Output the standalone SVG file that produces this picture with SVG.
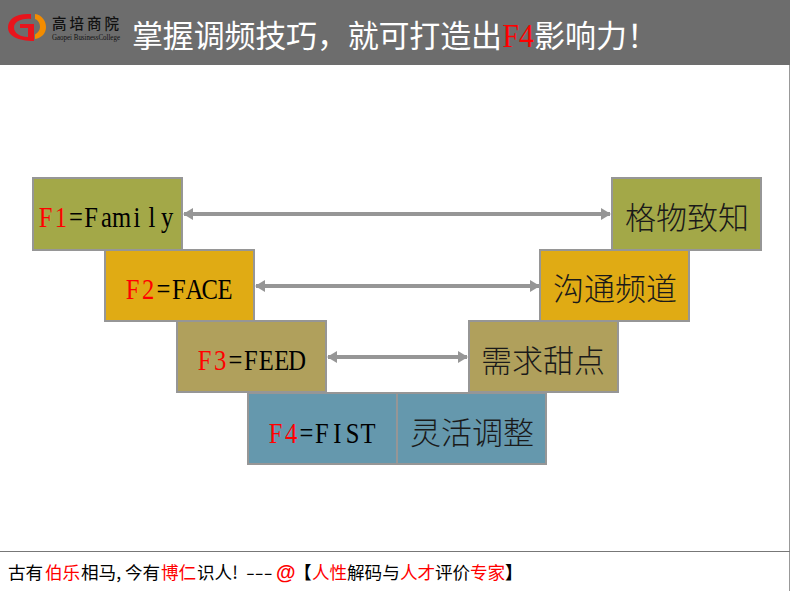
<svg xmlns="http://www.w3.org/2000/svg" width="790" height="591" viewBox="0 0 790 591">
<style>
.box{stroke:#969696;stroke-width:2}
.latin{font-family:"Liberation Serif",serif;font-size:30px;fill:#000;text-anchor:middle}
.cjk{font-family:"Noto Sans CJK SC",sans-serif;font-size:31px;fill:#1a1a1a;font-weight:300}
.title{font-family:"Noto Sans CJK SC",sans-serif;font-size:31px;fill:#fff}
.foot{font-family:"Noto Sans CJK SC",sans-serif;font-size:17.600px;fill:#000}
.r{fill:#f00}
.conn{stroke:#969696;stroke-width:4;fill:none;marker-start:url(#a);marker-end:url(#a)}
</style>
<defs>
<marker id="a" viewBox="0 0 10 12" refX="9" refY="6" markerWidth="10" markerHeight="12" markerUnits="userSpaceOnUse" orient="auto-start-reverse"><path d="M0 0L10 6L0 12Z" fill="#969696"/></marker>
</defs>
<rect width="790" height="591" fill="#fff"/>
<g id="header">
<rect width="790" height="65" fill="#6d6d6d"/>
<g id="logo">
<path d="M31 14C16 13 8 19 8 27.500C8 36 18 41 34 41L34 24L20 24L20 28L28 28L28 37C20 37 14 33 14 27.500C14 22 21 18 31 19Z" fill="#e8141c"/>
<path d="M35 14C42 15 46 21 46 27C46 33 42 38 35 39L35 34.500C38 33 40 30 40 27C40 23 38 20 35 19Z" fill="#f28c00"/>
<text x="52" y="29" style="font-family:'Noto Sans CJK SC',serif;font-size:14.500px;font-weight:500;letter-spacing:3px;fill:#111">高培商院</text>
<text x="52" y="40" style="font-family:'Liberation Serif',serif;font-size:7.500px;fill:#111" textLength="68" lengthAdjust="spacingAndGlyphs">Gaopei BusinessCollege</text>
</g>
<text class="title" x="132" y="47" textLength="370">掌握调频技巧，就可打造出</text>
<text class="r" transform="translate(502.500 46.500) scale(.9 1)" style="font-family:'Liberation Serif',serif;font-size:33px">F4</text>
<text class="title" x="534" y="47">影响力！</text>
</g>
<line x1="789.500" y1="65" x2="789.500" y2="591" stroke="#999" stroke-width="1"/>
<g id="connectors">
<line class="conn" x1="184" y1="214" x2="610" y2="214"/>
<line class="conn" x1="256" y1="286" x2="539" y2="286"/>
<line class="conn" x1="328" y1="357" x2="467" y2="357"/>
</g>
<g id="f1"><rect class="box" x="33" y="178" width="149" height="72" fill="#a3a848"/><text class="latin" transform="translate(38 227) scale(.82 1)"><tspan class="r" x="9.300 27.800">F1</tspan><tspan x="46.300 64.900 83.400 102 120.500 139 157.600">=Family</tspan></text></g>
<g id="f1r"><rect class="box" x="612" y="178" width="149" height="72" fill="#a3a848"/><text class="cjk" x="625" y="229">格物致知</text></g>
<g id="f2"><rect class="box" x="105" y="250" width="149" height="71" fill="#e0ab14"/><text class="latin" transform="translate(125 299) scale(.82 1)"><tspan class="r" x="9.400 28.200">F2</tspan><tspan x="46.900 65.700 84.500 103.300 122.100">=FACE</tspan></text></g>
<g id="f2r"><rect class="box" x="540" y="250" width="149" height="71" fill="#e0ab14"/><text class="cjk" x="553" y="300">沟通频道</text></g>
<g id="f3"><rect class="box" x="177" y="321" width="149" height="71" fill="#b0a05c"/><text class="latin" transform="translate(197 370) scale(.82 1)"><tspan class="r" x="9.400 28.200">F3</tspan><tspan x="46.900 65.700 84.500 103.300 122.100">=FEED</tspan></text></g>
<g id="f3r"><rect class="box" x="469" y="321" width="149" height="71" fill="#b0a05c"/><text class="cjk" x="481" y="372">需求甜点</text></g>
<g id="f4"><rect class="box" x="248" y="393" width="149" height="71" fill="#6598ad"/><text class="latin" transform="translate(268 443) scale(.82 1)"><tspan class="r" x="9.400 28.200">F4</tspan><tspan x="46.900 65.700 84.500 103.300 122.100">=FIST</tspan></text></g>
<g id="f4r"><rect class="box" x="397" y="393" width="149" height="71" fill="#6598ad"/><text class="cjk" x="410" y="444">灵活调整</text></g>
<g id="footer">
<line x1="0" y1="551.500" x2="790" y2="551.500" stroke="#777" stroke-width="1"/>
<text class="foot" y="579"><tspan x="8">古有</tspan><tspan class="r" x="45">伯乐</tspan><tspan x="81">相马,</tspan><tspan x="125">今有</tspan><tspan class="r" x="161">博仁</tspan><tspan x="197">识人!</tspan><tspan class="r" x="276" style="font-family:'Liberation Sans',sans-serif;font-size:20px;font-weight:700">@</tspan><tspan x="294" font-weight="700">【</tspan><tspan class="r" x="312">人性</tspan><tspan x="347">解码与</tspan><tspan class="r" x="400">人才</tspan><tspan x="435">评价</tspan><tspan class="r" x="470">专家</tspan><tspan x="505" font-weight="700">】</tspan></text>
<text class="foot" transform="translate(246 579) scale(1.45 1)">---</text>
</g>
</svg>
